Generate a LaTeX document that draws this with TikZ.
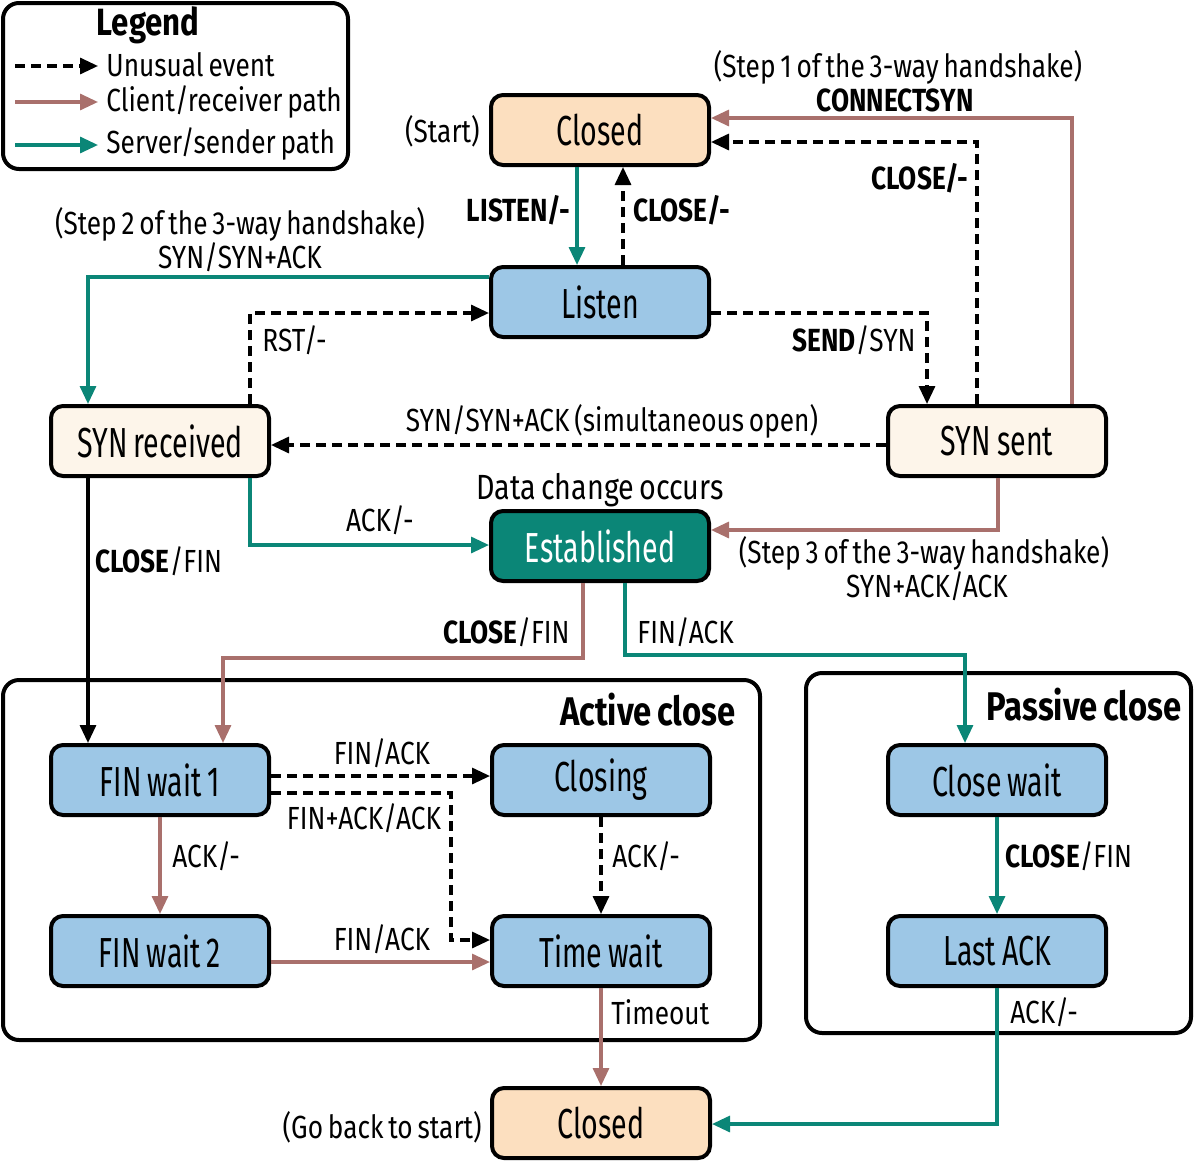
\documentclass[tikz,border=0pt]{standalone}
\usepackage{fontspec}
\setmainfont{Fira Sans}[FakeStretch=0.82, WordSpace=0.7]
\newfontfamily\statefont{Fira Sans}[FakeStretch=0.68, WordSpace=0.8]
\usetikzlibrary{arrows.meta}
\definecolor{tealc}{HTML}{0B8677}
\definecolor{brownc}{HTML}{A9706C}
\definecolor{bluef}{HTML}{9DC7E6}
\definecolor{peachf}{HTML}{FCDFBF}
\definecolor{lightf}{HTML}{FDF5EA}
\tikzset{
  st/.style={draw, line width=2pt, rounded corners=6pt, minimum width=109pt, minimum height=35pt, inner sep=0pt, font=\statefont\fontsize{21}{23}\selectfont},
  bluest/.style={st, fill=bluef},
  peachst/.style={st, fill=peachf},
  lightst/.style={st, fill=lightf},
  tealst/.style={st, fill=tealc, text=white},
  tip/.style={-{Triangle[length=9pt,width=8pt]}},
  cl/.style={draw=brownc, line width=1.6pt, tip},
  sv/.style={draw=tealc, line width=1.6pt, tip},
  un/.style={draw=black, line width=1.6pt, dash pattern=on 5pt off 3pt, tip},
  bk/.style={draw=black, line width=1.6pt, tip},
  lab/.style={font=\fontsize{16}{18}\selectfont, inner sep=1pt},
  frame/.style={draw, line width=2pt, rounded corners=8pt},
  ttl/.style={font=\bfseries\fontsize{20}{22}\selectfont, inner sep=1pt},
}
\begin{document}
\begin{tikzpicture}[x=0.5pt,y=-0.5pt]
\useasboundingbox (0,0) rectangle (1194,1162);
% frames
\draw[frame] (3,3) rectangle (348,169);
\draw[frame] (3,680) rectangle (760,1040);
\draw[frame] (806,673) rectangle (1191,1033);
% legend
\node[ttl, font=\bfseries\fontsize{19}{21}\selectfont] (legendt) at (148,25) {Legend};
\coordinate (la1) at (15,66); \coordinate (lb1) at (98,66);
\coordinate (la2) at (15,102); \coordinate (lb2) at (98,102);
\coordinate (la3) at (15,145); \coordinate (lb3) at (98,145);
\draw[un] (la1) -- (lb1);
\draw[cl] (la2) -- (lb2);
\draw[sv] (la3) -- (lb3);
\node[lab, anchor=west] (lt1) at (104,65) {Unusual event};
\node[lab, anchor=west] (lt2) at (104,102) {Client/receiver path};
\node[lab, anchor=west] (lt3) at (104,144) {Server/sender path};
% states
\node[peachst] (closed) at (600,130) {Closed};
\node[bluest] (listen) at (600,302) {Listen};
\node[lightst] (synrec) at (160,441) {SYN received};
\node[lightst] (synsent) at (997,441) {SYN sent};
\node[tealst] (est) at (600,546) {Established};
\node[bluest] (finw1) at (160,780) {FIN wait 1};
\node[bluest] (closing) at (601,780) {Closing};
\node[bluest] (finw2) at (160,951) {FIN wait 2};
\node[bluest] (timew) at (601,951) {Time wait};
\node[bluest] (closew) at (997,780) {Close wait};
\node[bluest] (lastack) at (997,951) {Last ACK};
\node[peachst] (closedb) at (601,1123) {Closed};
% titles
\node[ttl, anchor=east] (actt) at (738,710) {Active close};
\node[ttl, anchor=east] (passt) at (1184,705) {Passive close};
% connectors
\draw[sv] (closed.south -| 577,0) -- (listen.north -| 577,0);
\draw[un] (listen.north -| 623,0) -- (closed.south -| 623,0);
\draw[cl] (synsent.north -| 1072,0) |- (closed.east |- 0,118);
\draw[un] (synsent.north -| 977,0) |- (closed.east |- 0,142);
\draw[sv] (listen.west |- 0,277) -| (synrec.north -| 88,0);
\draw[un] (synrec.north -| 250,0) |- (listen.west |- 0,313);
\draw[un] (listen.east |- 0,313) -| (synsent.north -| 927,0);
\draw[un] (synsent.west |- 0,445) -- (synrec.east |- 0,445);
\draw[sv] (synrec.south -| 250,0) |- (est.west |- 0,545);
\draw[cl] (synsent.south -| 998,0) |- (est.east |- 0,530);
\draw[bk] (synrec.south -| 88,0) -- (finw1.north -| 88,0);
\draw[cl] (est.south -| 583,0) -- ++(0,75) -| (finw1.north -| 223,0);
\draw[sv] (est.south -| 625,0) -- ++(0,72) -| (closew.north -| 965,0);
\draw[un] (finw1.east |- 0,776) -- (closing.west |- 0,776);
\draw[un] (finw1.east |- 0,793) -- (451,793) |- (timew.west |- 0,940);
\draw[un] (closing.south) -- (timew.north);
\draw[cl] (finw1.south) -- (finw2.north);
\draw[cl] (finw2.east |- 0,962) -- (timew.west |- 0,962);
\draw[cl] (timew.south) -- (closedb.north);
\draw[sv] (closew.south) -- (lastack.north);
\draw[sv] (lastack.south) |- (closedb.east |- 0,1124);
% labels
\node[lab, anchor=east] (startl) at (482,131) {(Start)};
\node[lab, anchor=east] (l1) at (573,210) {\bfseries LISTEN/-};
\node[lab, anchor=west] (l2) at (631,210) {\bfseries CLOSE/-};
\node[lab] (l3) at (898,67) {(Step 1 of the 3-way handshake)};
\node[lab] (l4) at (895,100) {\bfseries CONNECTSYN};
\node[lab, anchor=east] (l5) at (971,178) {\bfseries CLOSE/-};
\node[lab] (l6) at (240,224) {(Step 2 of the 3-way handshake)};
\node[lab] (l7) at (240,257) {SYN/SYN+ACK};
\node[lab, anchor=west] (l8) at (260,340) {RST/-};
\node[lab, anchor=east] (l9) at (918,340) {\textbf{SEND}/SYN};
\node[lab] (l10) at (612,421) {SYN/SYN+ACK (simultaneous open)};
\node[lab, font=\fontsize{17.5}{19}\selectfont] (l11) at (600,490) {Data change occurs};
\node[lab] (l12) at (380,520) {ACK/-};
\node[lab] (l13) at (924,553) {(Step 3 of the 3-way handshake)};
\node[lab] (l14) at (927,586) {SYN+ACK/ACK};
\node[lab, anchor=west] (l15) at (93,561) {\textbf{CLOSE}/FIN};
\node[lab, anchor=east] (l16) at (572,632) {\textbf{CLOSE}/FIN};
\node[lab, anchor=west] (l17) at (635,632) {FIN/ACK};
\node[lab] (l18) at (382,753) {FIN/ACK};
\node[lab] (l19) at (364,818) {FIN+ACK/ACK};
\node[lab, anchor=west] (l20) at (170,856) {ACK/-};
\node[lab, anchor=west] (l21) at (610,856) {ACK/-};
\node[lab] (l22) at (382,939) {FIN/ACK};
\node[lab, anchor=west] (l23) at (609,1012) {Timeout};
\node[lab, anchor=west] (l24) at (1003,856) {\textbf{CLOSE}/FIN};
\node[lab, anchor=west] (l25) at (1008,1012) {ACK/-};
\node[lab, anchor=east] (l26) at (484,1127) {(Go back to start)};
\end{tikzpicture}
\end{document}
